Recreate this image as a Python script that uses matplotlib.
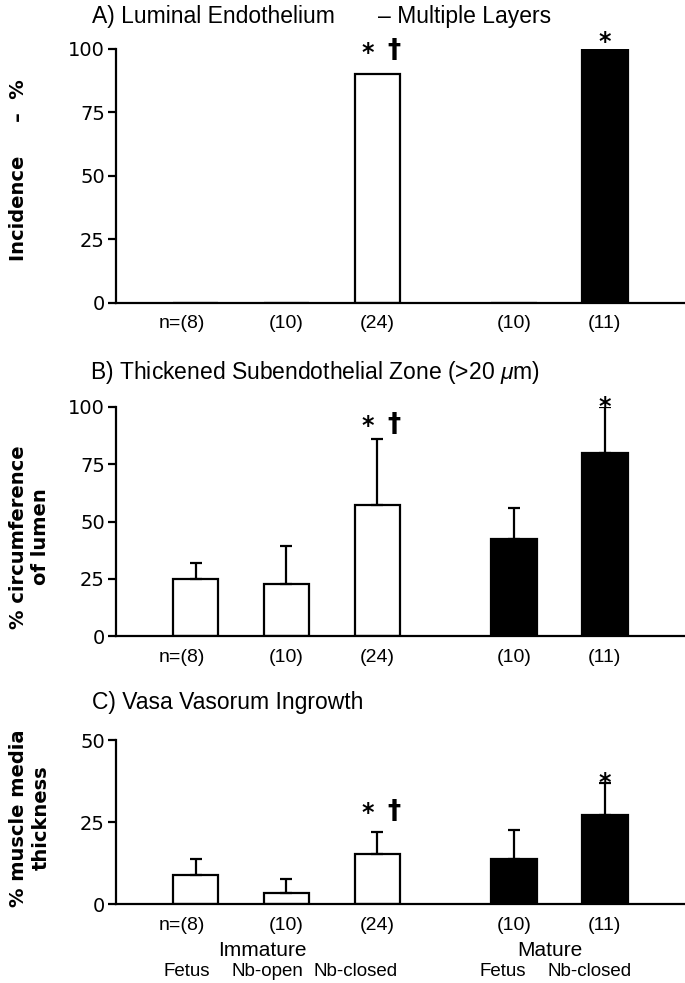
import matplotlib
matplotlib.use("Agg")
import matplotlib.pyplot as plt

# groups: immature (fetus, nb-open, nb-closed), mature (fetus, nb-closed)
positions = [0, 1, 2, 3.5, 4.5]
n_labels = ["n=(8)", "(10)", "(24)", "(10)", "(11)"]
bar_colors = ["white", "white", "white", "black", "black"]

endo_vals = [0, 0, 90, 0, 100]

subendo_vals = [25, 22.5, 57, 42.5, 80]
subendo_err = [7, 17, 29, 13.5, 20]

vasa_vals = [8.7, 3.5, 15.2, 13.8, 27.2]
vasa_err = [5, 4, 6.7, 8.8, 9.6]

group_labels = ["Immature", "Mature"]
group_x = [0.73, 3.9]
cat_labels = ["Fetus", "Nb-open", "Nb-closed", "Fetus", "Nb-closed"]
cat_x = [-0.1, 0.79, 1.76, 3.38, 4.33]

# significance markers: (bar index)
marks_star = [2, 4]
marks_dagger = [2]

sans = ["Liberation Sans", "DejaVu Sans"]
plt.rcParams["mathtext.fontset"] = "custom"
plt.rcParams["mathtext.it"] = "Liberation Sans:italic"

fig = plt.figure(figsize=(6.85, 9.83), dpi=100)
W, H = 685.0, 983.0
PT = 0.72  # points per pixel at dpi 100


def make_ax(top, bottom):
    left = 116 / W
    return fig.add_axes([left, 1 - bottom / H, 1 - left, (bottom - top) / H])


def style(ax, ymax, ticks):
    ax.set_xlim(-0.874, 5.38)
    ax.set_ylim(0, ymax)
    ax.set_yticks(ticks)
    ax.set_xticks([])
    for s in ["top", "right"]:
        ax.spines[s].set_visible(False)
    ax.spines["left"].set_linewidth(1.6)
    ax.spines["bottom"].set_linewidth(1.6)
    ax.tick_params(axis="y", length=6, width=1.6, labelsize=14, pad=2)
    ax.patch.set_alpha(0)


def below(ax, x, px, text, size, ha="center"):
    ax.annotate(text, (x, 0), xycoords=("data", "axes fraction"),
                xytext=(0, -px * PT), textcoords="offset points",
                ha=ha, va="center", fontsize=size, family=sans, annotation_clip=False)


def nlabels(ax):
    for i, (p, lab) in enumerate(zip(positions, n_labels)):
        if i == 0:
            below(ax, p + 0.11, 21, lab, 14, ha="right")
        else:
            below(ax, p, 21, lab, 14)


def markers(ax, tops, off_pair, off_single, dag_off):
    for i in marks_star:
        if i in marks_dagger:
            dx, dy = -10, off_pair
        else:
            dx, dy = 0, off_single
        ax.annotate("*", (positions[i], tops[i]), xytext=(dx * PT, dy * PT),
                    textcoords="offset points", ha="center", va="center",
                    fontsize=17, fontweight="bold", annotation_clip=False)
    for i in marks_dagger:
        ax.annotate("\u2020", (positions[i], tops[i]), xytext=(16 * PT, dag_off * PT),
                    textcoords="offset points", ha="center", va="center",
                    fontsize=19, fontweight="bold", annotation_clip=False)


def title(y, *parts):
    for x, t in parts:
        fig.text(x / W, 1 - y / H, t, ha="left", va="center", fontsize=16.5, family=sans)


err_kw = dict(elinewidth=1.6, capsize=4, capthick=1.6)

# Panel A
axA = make_ax(49, 303)
axA.bar(positions, endo_vals, width=0.5, color=bar_colors, edgecolor="black", linewidth=1.6)
style(axA, 100, [0, 25, 50, 75, 100])
nlabels(axA)
markers(axA, endo_vals, 21, 7, 23)
title(16, (92, "A) Luminal Endothelium"), (378, "\u2013 Multiple Layers"))
fig.text(19 / W, 1 - 170 / H, "Incidence     \u2013  %", rotation=90, ha="center",
         va="center", fontsize=14, fontweight="bold")

# Panel B
axB = make_ax(407, 636)
axB.bar(positions, subendo_vals, width=0.5, color=bar_colors, edgecolor="black", linewidth=1.6,
        yerr=[[0] * 5, subendo_err], error_kw=err_kw)
style(axB, 100, [0, 25, 50, 75, 100])
nlabels(axB)
topsB = [v + e for v, e in zip(subendo_vals, subendo_err)]
markers(axB, topsB, 13, 0, 14)
title(373, (90, "B) Thickened Subendothelial Zone (>20 $\\mathit{\\mu}$m)"))
fig.text(30 / W, 1 - 537 / H, "% circumference\nof lumen", rotation=90, ha="center",
         va="center", fontsize=14, fontweight="bold", linespacing=1.2)

# Panel C
axC = make_ax(740, 904)
axC.bar(positions, vasa_vals, width=0.5, color=bar_colors, edgecolor="black", linewidth=1.6,
        yerr=[[0] * 5, vasa_err], error_kw=err_kw)
style(axC, 50, [0, 25, 50])
nlabels(axC)
topsC = [v + e for v, e in zip(vasa_vals, vasa_err)]
markers(axC, topsC, 19, 0, 20)
title(702, (92, "C) Vasa Vasorum Ingrowth"))
fig.text(30 / W, 1 - 818 / H, "% muscle media\nthickness", rotation=90, ha="center",
         va="center", fontsize=14, fontweight="bold", linespacing=1.2)

for g, x in zip(group_labels, group_x):
    below(axC, x, 47, g, 15)
for c, x in zip(cat_labels, cat_x):
    below(axC, x, 67, c, 13.5)

fig.savefig("out.png", dpi=100)
